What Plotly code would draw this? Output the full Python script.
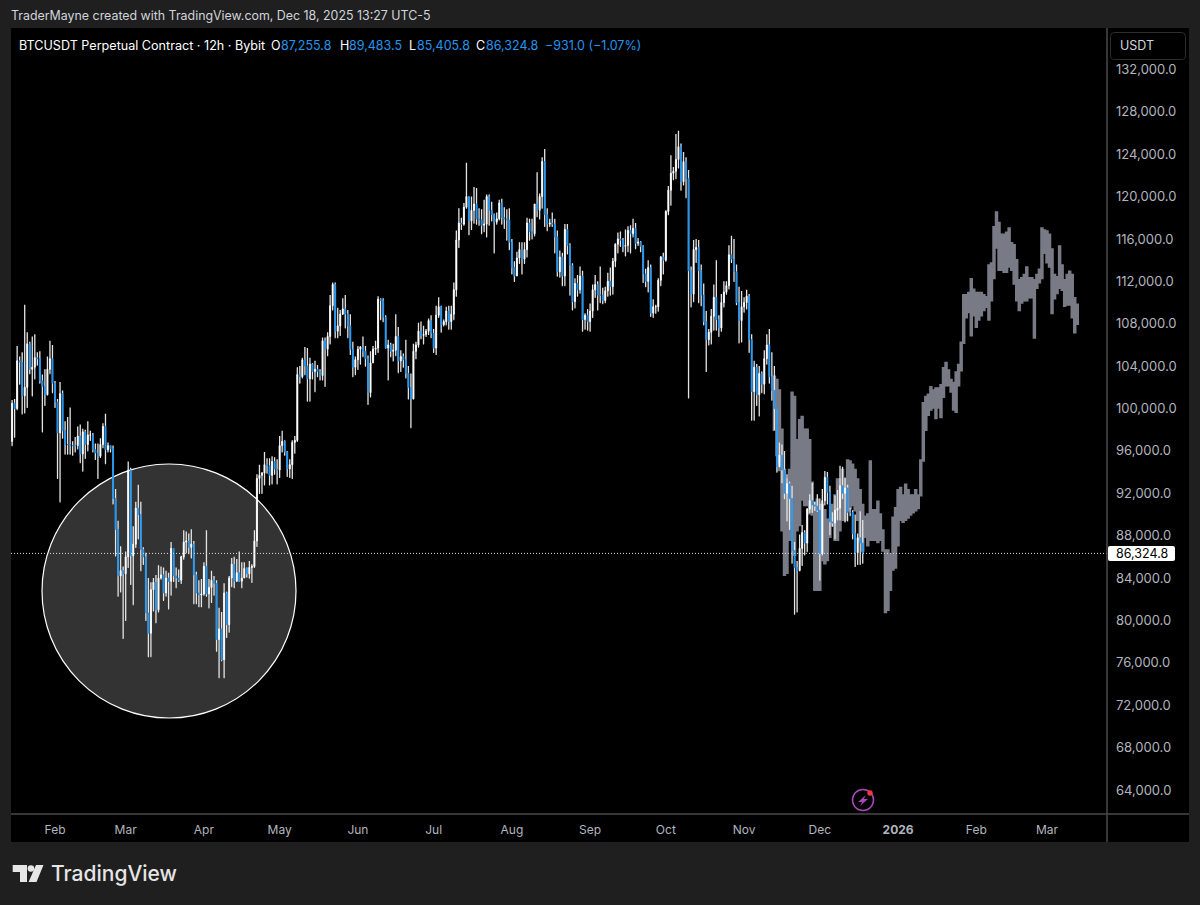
import plotly.graph_objects as go
import pandas as pd

# ---------- data (thousands of USDT, one row per month) ----------
closes = [
 100.5,100.0,104.5,104.4,101.2,102.0,106.1,103.7,103.9,104.8,104.7,102.6,102.1,101.3,103.7,104.7,102.4,
 100.6,97.7,101.4,97.9,96.6,96.6,96.5,96.5,96.5,97.4,95.7,97.8,96.6,97.5,97.5,96.1,95.8,95.5,96.6,98.3,96.1,96.5,96.2,91.5,88.6,84.2,84.7,84.4,
 86.0,94.2,86.1,87.2,90.6,90.0,86.7,86.0,80.7,78.8,82.9,83.6,81.0,84.0,84.3,82.6,84.0,83.7,86.8,84.2,84.0,83.8,86.0,87.4,87.5,86.9,87.2,84.3,82.6,82.4,82.5,
 85.1,82.5,83.1,83.8,83.5,78.2,79.2,76.3,82.6,79.6,84.0,85.3,83.7,84.5,83.7,84.0,84.9,84.4,85.0,85.1,87.5,93.4,93.7,93.9,94.7,94.6,93.7,95.0,94.3,94.2,
 96.5,96.9,95.9,94.3,94.7,96.8,97.0,103.2,103.0,104.6,104.0,102.8,104.2,103.5,103.7,103.5,103.1,106.4,105.6,106.8,109.7,111.7,107.3,107.8,108.9,109.4,108.9,107.8,105.6,103.9,104.6,
 105.6,105.8,105.4,104.7,101.5,104.3,105.6,105.7,110.3,110.2,108.6,105.7,106.0,105.4,105.5,106.8,104.5,104.9,104.6,103.3,102.0,100.9,105.4,106.0,107.3,106.9,107.0,107.3,108.3,107.1,
 105.7,108.8,109.6,107.9,108.2,109.2,108.2,108.9,111.2,115.9,117.5,117.4,119.0,120.0,117.7,118.7,119.3,117.9,117.8,117.3,117.4,120.0,118.7,118.3,117.6,117.9,119.4,118.0,117.9,117.8,115.7,
 113.3,112.5,114.2,115.0,114.1,115.0,117.5,116.7,116.5,119.3,118.7,120.0,123.3,118.3,117.4,117.5,117.4,116.2,112.9,114.3,112.5,116.9,115.4,113.5,110.1,111.8,111.2,112.5,108.4,108.8,108.2,
 109.2,111.2,111.7,110.7,110.7,110.2,111.1,112.0,111.5,113.9,115.5,116.0,115.9,115.3,115.4,116.8,116.5,117.0,115.6,115.7,115.3,112.7,112.0,113.3,109.0,109.6,109.6,112.1,114.3,114.0,
 118.6,120.6,122.2,122.4,123.5,124.7,121.4,123.3,121.7,113.0,110.8,115.0,115.2,113.0,110.7,108.2,106.5,107.2,108.7,110.5,108.4,107.6,110.0,111.0,111.6,114.5,114.1,112.9,110.0,108.3,109.6,
 110.0,110.6,106.5,101.6,103.9,101.3,103.3,102.3,104.7,106.0,103.0,101.7,100.0,94.5,95.6,94.2,92.0,92.9,91.5,86.6,85.0,84.7,86.8,88.3,87.3,90.5,91.3,90.9,90.8,90.4,
 86.3,91.3,93.5,92.1,89.3,89.2,90.4,90.6,92.7,92.0,92.5,90.2,90.2,88.2,86.4,87.8,87.3,86.3248,
]
highs = [
 100.8,100.9,105.9,104.9,105.3,109.8,107.2,106.3,106.8,107.0,105.3,105.4,103.2,103.7,104.9,106.4,106.0,
 102.6,100.9,102.5,101.7,98.8,99.2,100.1,96.9,97.3,98.3,98.5,98.1,98.0,98.8,97.9,97.7,96.7,96.7,97.2,98.6,99.5,96.8,96.5,96.5,92.4,89.4,87.0,85.1,
 86.5,95.0,94.4,88.9,91.2,92.8,91.2,86.9,86.4,84.0,83.6,84.0,84.3,85.2,85.1,85.0,84.7,84.5,87.4,86.2,85.0,84.8,86.1,88.5,88.4,88.2,88.6,87.5,84.6,83.8,83.9,
 85.5,88.5,83.9,84.7,84.2,83.8,81.2,80.8,83.5,82.7,84.2,85.9,86.0,85.8,86.5,85.5,85.5,85.0,85.6,85.3,88.5,93.8,94.7,94.0,95.9,95.3,95.3,95.5,95.4,95.2,
 97.4,97.9,97.0,96.0,95.2,97.0,97.4,103.9,104.0,104.8,105.8,105.7,104.8,104.3,104.5,104.1,103.7,106.7,106.7,107.2,110.7,111.9,111.9,109.5,109.3,110.4,110.7,109.3,108.9,106.3,104.9,
 105.9,105.9,106.8,105.9,105.0,105.4,105.9,106.4,110.6,110.4,110.4,108.8,106.5,106.2,106.1,108.9,107.7,105.5,105.2,106.5,104.0,103.3,106.1,106.3,108.1,108.2,107.8,107.5,108.5,108.8,
 107.5,109.7,110.5,109.7,108.4,109.6,109.7,109.7,111.9,116.8,118.9,118.0,119.4,123.2,120.0,120.0,120.9,120.8,118.9,118.8,119.7,120.2,120.2,119.5,118.4,118.5,119.7,119.8,119.0,118.8,118.9,
 116.0,113.9,114.8,115.7,115.7,115.7,118.0,117.9,117.9,119.3,122.3,120.3,123.7,124.5,118.9,117.9,118.5,117.9,116.8,114.9,114.7,117.4,117.4,115.6,113.7,112.3,112.6,113.4,113.0,109.0,109.4,
 109.9,111.7,112.6,112.0,113.4,111.4,111.5,112.8,113.3,114.2,115.6,116.6,116.7,116.1,116.9,117.2,117.3,117.9,117.5,116.1,115.8,115.4,113.2,114.0,113.6,110.3,109.8,112.3,114.4,114.7,
 118.7,121.0,123.9,122.8,125.9,126.2,125.0,124.2,123.7,122.5,113.4,115.9,116.0,115.9,113.6,111.8,109.2,107.5,109.4,111.7,114.0,108.8,110.8,112.0,112.0,115.4,116.3,116.0,113.6,111.5,111.1,
 110.5,111.2,110.8,107.0,104.5,104.2,104.0,103.5,105.5,107.0,107.5,105.3,104.0,99.9,96.8,96.6,96.0,93.8,93.1,92.7,87.4,85.6,88.1,89.0,88.5,90.6,91.9,93.0,91.2,91.9,
 91.5,92.4,94.1,94.0,92.7,90.2,91.8,92.3,94.6,94.5,93.5,92.8,90.6,90.4,90.0,88.2,90.3,89.4835,
]
lows = [
 96.5,97.3,99.9,102.3,99.5,99.6,100.1,103.3,101.2,102.8,104.1,102.4,97.8,100.3,101.3,103.3,101.5,
 100.1,93.4,91.2,97.2,95.7,95.7,95.7,95.6,95.9,96.2,94.9,94.1,95.3,96.0,97.0,95.9,95.2,93.4,95.4,96.3,94.8,95.9,95.9,91.0,86.1,82.3,82.7,78.3,
 80.0,85.0,83.4,81.5,86.9,87.7,84.7,85.3,80.0,76.6,76.6,80.9,79.8,80.8,83.9,81.9,82.3,81.1,82.4,83.7,83.1,83.7,83.5,85.8,86.4,86.3,85.9,81.6,81.6,81.3,81.3,
 82.4,82.3,81.2,81.7,82.4,77.1,74.6,76.2,74.6,78.4,78.9,83.2,83.1,83.7,83.7,83.1,84.1,84.1,84.0,83.6,85.0,87.0,92.0,92.0,92.8,93.9,92.8,92.9,93.8,92.9,
 93.5,95.9,95.6,93.6,93.5,93.4,95.8,96.9,102.4,102.9,103.2,100.7,100.7,102.8,101.6,103.0,102.7,102.7,102.1,105.0,106.1,109.3,106.7,106.7,106.9,108.9,107.6,106.7,105.1,103.0,103.2,
 103.7,104.2,104.9,104.0,100.4,101.1,104.6,105.1,105.3,108.4,108.2,105.7,102.7,104.9,104.5,105.0,103.4,103.5,103.9,102.9,100.9,98.2,100.9,104.7,105.8,106.6,106.1,106.8,107.0,106.7,
 105.3,105.1,108.6,107.2,107.8,107.9,107.5,107.5,108.4,110.6,115.2,116.9,117.3,118.9,116.4,116.9,117.5,117.4,117.3,116.5,116.7,116.2,117.3,117.7,114.7,117.4,117.8,117.4,117.0,115.9,115.0,
 112.7,112.0,112.6,113.7,112.7,113.7,114.3,115.9,116.0,116.3,118.1,117.9,118.9,117.2,116.8,117.2,117.2,114.7,112.5,112.4,111.6,111.6,114.6,110.7,109.3,109.5,110.6,110.9,107.3,107.5,107.4,
 107.3,108.6,110.5,109.3,110.0,109.9,110.0,110.6,110.7,110.8,113.4,114.7,115.3,114.8,114.4,114.8,114.7,116.2,115.1,115.4,114.8,111.9,111.5,111.0,108.7,108.6,109.0,109.2,111.6,112.7,
 113.9,118.3,119.2,121.6,121.7,122.7,120.6,121.1,119.9,101.0,109.6,110.1,113.8,110.0,109.7,107.9,103.5,106.0,106.1,107.4,107.4,106.8,107.3,109.6,110.8,111.3,113.8,112.0,109.8,106.2,106.3,
 109.1,109.4,105.3,98.9,98.9,100.3,99.3,101.5,101.4,104.2,102.4,100.8,98.0,94.0,94.9,93.0,91.5,89.4,88.6,85.4,80.6,80.8,84.7,85.2,86.2,86.5,90.2,90.2,90.4,90.3,
 83.8,86.2,90.9,91.0,88.1,88.9,87.7,89.5,89.5,91.5,89.3,89.4,89.9,87.7,85.1,85.3,85.3,85.4058,
]
first_open = 96.9
first_date = "2025-01-15"

# grey projected bars
ghost_first_date = "2025-11-13"
ghost_highs = [
 103.0,102.7,101.7,98.0,94.2,93.3,94.2,101.5,101.1,97.0,98.9,99.2,98.0,98.0,97.0,93.0,91.1,91.4,90.9,90.9,
 90.4,89.5,89.5,90.9,91.8,93.3,93.3,94.2,93.3,95.1,95.0,94.7,94.2,93.3,92.3,90.9,89.8,90.0,95.0,90.4,
 90.4,91.2,90.0,88.5,86.6,86.6,86.2,89.7,90.6,92.3,92.5,91.8,92.8,92.3,91.8,91.8,92.3,91.8,95.1,100.5,
 101.1,101.3,102.0,101.7,101.9,101.9,102.2,103.8,104.3,103.6,102.7,102.4,103.4,104.1,106.2,110.7,110.7,110.9,112.2,111.2,
 110.9,110.9,110.9,110.7,110.5,113.5,113.7,117.1,118.5,117.5,116.4,116.4,116.6,117.0,115.6,115.4,114.0,112.1,112.3,112.6,
 113.3,112.3,112.3,112.1,112.6,113.1,117.0,116.8,116.7,116.4,115.0,112.6,112.4,115.3,113.5,112.1,112.6,112.9,112.6,110.4,109.8,
]
ghost_lows = [
 98.0,95.6,94.2,88.5,84.3,84.5,87.6,89.5,86.2,88.5,89.0,91.4,90.9,90.9,90.1,90.0,82.9,82.9,82.9,85.7,
 85.4,85.7,87.9,89.0,87.6,87.6,88.5,89.5,89.5,90.4,90.6,90.9,90.4,89.5,87.6,86.6,87.9,87.1,87.6,87.6,
 87.6,87.4,87.6,86.6,80.8,81.0,82.9,84.8,85.0,87.1,89.5,89.3,89.5,89.7,90.0,90.2,90.4,90.6,91.8,95.1,
 98.0,99.4,99.9,100.1,99.1,100.1,99.2,101.1,102.2,102.2,101.6,99.9,99.7,102.2,103.6,106.2,108.6,109.1,106.9,108.8,
 107.7,108.4,108.8,109.3,109.6,108.4,110.2,112.3,115.2,113.1,113.1,112.9,112.9,113.4,113.1,111.8,110.2,109.3,110.0,110.2,
 110.2,110.5,110.5,106.7,111.4,111.9,112.3,114.7,113.8,113.4,109.0,110.4,110.9,111.4,111.2,109.7,109.8,109.8,108.6,107.2,108.0,
]

price_ticks = list(range(64000, 132001, 4000))
month_ticks = ["2025-02-01","2025-03-01","2025-04-01","2025-05-01","2025-06-01","2025-07-01","2025-08-01",
               "2025-09-01","2025-10-01","2025-11-01","2025-12-01","2026-01-01","2026-02-01","2026-03-01"]
month_labels = ["Feb","Mar","Apr","May","Jun","Jul","Aug","Sep","Oct","Nov","Dec","<b>2026</b>","Feb","Mar"]
last_price = 86324.8
x_range = ["2025-01-14 13:40", "2026-03-24 09:00"]
y_range = [61735, 135907]

# ---------- styles ----------
BG = "#1f1f1f"; BLUE = "#2196f3"; WHITE = "#ffffff"; GHOST = "#787b86"
SEP = "#4a4a4a"; AXT = "#b2b5be"; TXT = "#d1d4dc"; FONT = "Inter, Liberation Sans, sans-serif"

# ---------- layout geometry helpers (pixels → paper) ----------
L, R, T, B = 11, 1106, 28, 814
def fx(p): return (p - L) / (R - L)
def fy(p): return (B - p) / (B - T)
def pth(pts, close=True):
    s = "M " + " L ".join(f"{fx(a):.5f},{fy(b):.5f}" for a, b in pts)
    return s + (" Z" if close else "")
def rrect(x0, y0, x1, y1, r):
    c = lambda a, b: f"{fx(a):.5f},{fy(b):.5f}"
    return (f"M {c(x0+r,y0)} L {c(x1-r,y0)} Q {c(x1,y0)} {c(x1,y0+r)} L {c(x1,y1-r)} Q {c(x1,y1)} {c(x1-r,y1)} "
            f"L {c(x0+r,y1)} Q {c(x0,y1)} {c(x0,y1-r)} L {c(x0,y0+r)} Q {c(x0,y0)} {c(x0+r,y0)} Z")

dates = pd.date_range(first_date, periods=len(closes), freq="D")
ghost_dates = pd.date_range(ghost_first_date, periods=len(ghost_highs), freq="D")
k = lambda seq: [v * 1000 for v in seq]
opens = [first_open] + closes[:-1]

fig = go.Figure()
# projected grey bars
fig.add_trace(go.Candlestick(
    x=ghost_dates, open=k(ghost_lows), close=k(ghost_highs), high=k(ghost_highs), low=k(ghost_lows),
    increasing=dict(line=dict(color=GHOST, width=2.4), fillcolor=GHOST),
    decreasing=dict(line=dict(color=GHOST, width=2.4), fillcolor=GHOST),
    whiskerwidth=0, hoverinfo="skip", showlegend=False, name="Projection"))
# wicks
fig.add_trace(go.Candlestick(
    x=dates, open=k(lows), close=k(lows), high=k(highs), low=k(lows),
    increasing=dict(line=dict(color="#e4e4e4", width=1.3), fillcolor="#e4e4e4"),
    decreasing=dict(line=dict(color="#e4e4e4", width=1.3), fillcolor="#e4e4e4"),
    whiskerwidth=0, hoverinfo="skip", showlegend=False, name="Wicks"))
# bodies
body_hi = [max(a, b) for a, b in zip(opens, closes)]
body_lo = [min(a, b) for a, b in zip(opens, closes)]
fig.add_trace(go.Candlestick(
    x=dates, open=k(opens), close=k(closes), high=k(body_hi), low=k(body_lo),
    increasing=dict(line=dict(color=WHITE, width=0.8), fillcolor=WHITE),
    decreasing=dict(line=dict(color=BLUE, width=0.8), fillcolor=BLUE),
    whiskerwidth=0, hoverinfo="skip", showlegend=False, name="BTCUSDT"))

shapes = [
    # black chart card (behind the plot) including price & time scales
    dict(type="rect", xref="paper", yref="paper", x0=fx(11), x1=fx(1189), y0=fy(842), y1=fy(28),
         fillcolor="#000000", line_width=0, layer="below"),
    # highlight circle
    dict(type="circle", xref="paper", yref="paper", x0=fx(42), x1=fx(296), y0=fy(718), y1=fy(464),
         fillcolor="#333333", line=dict(color="#ffffff", width=1.2), layer="below"),
    # last price dotted line
    dict(type="line", xref="paper", yref="y", x0=0, x1=fx(1107), y0=last_price, y1=last_price,
         line=dict(color="#e0e0e0", width=1, dash="1px,2px"), layer="above"),
    # separators
    dict(type="line", xref="paper", yref="paper", x0=fx(1107), x1=fx(1107), y0=fy(842), y1=fy(28),
         line=dict(color=SEP, width=1.5)),
    dict(type="line", xref="paper", yref="paper", x0=fx(11), x1=fx(1189), y0=fy(814), y1=fy(814),
         line=dict(color=SEP, width=1.5)),
    # USDT button
    dict(type="path", xref="paper", yref="paper", path=rrect(1110.5, 32.5, 1185.5, 59.5, 4),
         fillcolor="#000000", line=dict(color="#2e2e2e", width=1)),
    # price tag
    dict(type="path", xref="paper", yref="paper", path=rrect(1108, 546, 1175, 561, 2),
         fillcolor="#ffffff", line_width=0),
    # purple icon
    dict(type="circle", xref="paper", yref="paper", x0=fx(852.5), x1=fx(873.5), y0=fy(810.5), y1=fy(789.5),
         fillcolor="rgba(0,0,0,0)", line=dict(color="#ab47bc", width=1.5)),
    dict(type="path", xref="paper", yref="paper",
         path=pth([(866, 795), (858, 802), (862.2, 802), (860, 806), (868, 799), (863.8, 799)]),
         fillcolor="#ab47bc", line_width=0),
    dict(type="circle", xref="paper", yref="paper", x0=fx(867.3), x1=fx(872.7), y0=fy(795.7), y1=fy(790.3),
         fillcolor="#f23645", line_width=0),
    # TradingView mark
    dict(type="path", xref="paper", yref="paper",
         path=pth([(12.7, 865), (27, 865), (27, 882), (20, 882), (20, 872), (12.7, 872)]),
         fillcolor="#e6e6e6", line_width=0),
    dict(type="circle", xref="paper", yref="paper", x0=fx(27.6), x1=fx(34.2), y0=fy(871.8), y1=fy(865.2),
         fillcolor="#e6e6e6", line_width=0),
    dict(type="path", xref="paper", yref="paper",
         path=pth([(36, 865), (43.5, 865), (36.5, 882), (28.6, 882)]),
         fillcolor="#e6e6e6", line_width=0),
]

def note(px, py, text, color=TXT, size=12.5, weight=None, anchor="left"):
    fnt = dict(family=FONT, size=size, color=color)
    if weight: fnt["weight"] = weight
    return dict(xref="paper", yref="paper", x=fx(px), y=fy(py), text=text, showarrow=False,
                xanchor=anchor, yanchor="middle", align="left", font=fnt, borderpad=0, borderwidth=0)

annotations = [
    note(10.5, 16, "TraderMayne created with TradingView.com, Dec 18, 2025 13:27 UTC-5", size=12.4),
    note(19, 45, "BTCUSDT Perpetual Contract · 12h · Bybit", color="#ffffff", size=12.6),
    note(271, 45, "O", color="#ffffff"), note(281, 45, "87,255.8", color=BLUE),
    note(340, 45, "H", color="#ffffff"), note(349, 45, "89,483.5", color=BLUE),
    note(409, 45, "L", color="#ffffff"), note(417, 45, "85,405.8", color=BLUE),
    note(476, 45, "C", color="#ffffff"), note(486, 45, "86,324.8", color=BLUE),
    note(545, 45, "−931.0 (−1.07%)", color=BLUE),
    note(1120, 45.5, "USDT", color=TXT, size=12.5),
    note(1141.5, 553.5, "86,324.8", color="#000000", size=12.5, anchor="center"),
    note(51, 874, "TradingView", color="#e6e6e6", size=21, weight=500),
]

fig.update_layout(
    width=1200, height=905, autosize=False,
    margin=dict(l=L, r=1200 - R, t=T, b=905 - B, pad=0),
    paper_bgcolor=BG, plot_bgcolor="#000000",
    boxgap=0.4, boxmode="overlay",
    showlegend=False, dragmode=False, hovermode=False,
    font=dict(family=FONT, color=AXT, size=12),
    shapes=shapes, annotations=annotations,
    xaxis=dict(type="date", range=x_range, rangeslider=dict(visible=False), showgrid=False, zeroline=False,
               showline=False, ticks="", tickmode="array", tickvals=month_ticks, ticktext=month_labels,
               tickfont=dict(family=FONT, size=12, color=AXT), ticklabelstandoff=7),
    yaxis=dict(range=y_range, side="right", showgrid=False, zeroline=False, showline=False, ticks="",
               tickmode="array", tickvals=price_ticks, tickformat=",.1f",
               tickfont=dict(family=FONT, size=13, color=AXT), ticklabelstandoff=9),
)

fig.write_html("out.html", config={"displayModeBar": False, "staticPlot": True},
               post_script="document.body.style.margin='0';document.body.style.background='%s';document.body.style.overflow='hidden';" % BG)
